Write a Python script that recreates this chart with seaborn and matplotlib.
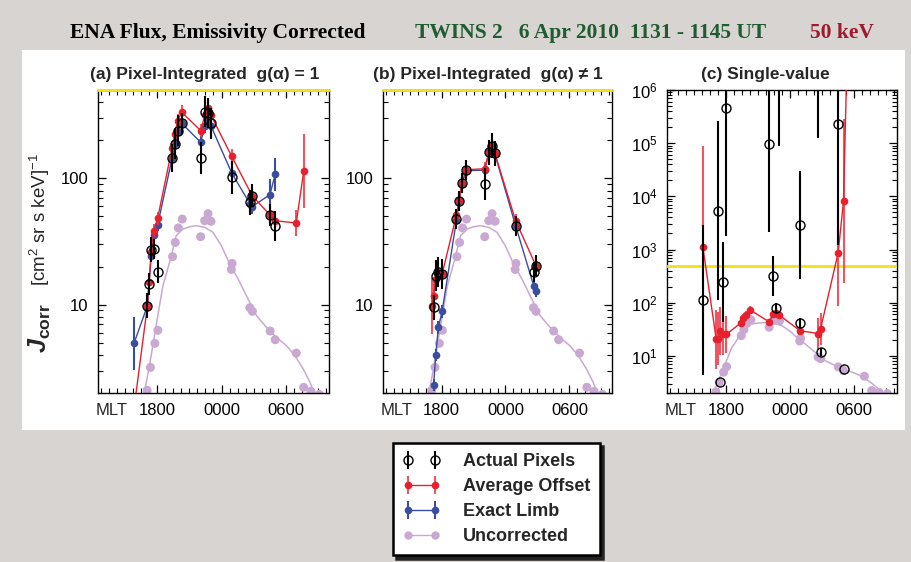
import numpy as np
import matplotlib
matplotlib.use("Agg")
import matplotlib.pyplot as plt
import seaborn as sns
from matplotlib.lines import Line2D
from matplotlib.patches import Rectangle
from matplotlib.ticker import MultipleLocator, FixedLocator, LogLocator, NullFormatter, FuncFormatter

nan = np.nan

# ---------------------------------------------------------------------------
# Data.  MLT in hours; times after midnight continue as 24+ (e.g. 0600 -> 30).
# Error bars are symmetric in log space, given as half-widths in decades.
# ---------------------------------------------------------------------------
pixel_mlt = [15.85, 17.1, 17.25, 17.45, 17.7, 18.05, 19.4, 19.65, 19.9, 20.3,
             22.05, 22.45, 22.7, 23.0, 24.9, 24.95, 26.65, 26.85, 28.5, 29.0,
             29.5, 30.95, 31.65]

# (a) Pixel-integrated, g(alpha) = 1
actual_a = [nan, 9.82, 14.6, 27.2, 27.6, 18.2, 145, 187, 239, 272,
            145, 337, 330, 272, nan, 102, 64.6, 72.9, 51.3, 42.2,
            nan, nan, nan]
actual_a_err = [nan, 0.10, 0.09, 0.10, 0.08, 0.09, 0.11, 0.12, 0.12, 0.08,
                0.13, 0.12, 0.12, 0.12, nan, 0.13, 0.10, 0.09, 0.09, 0.12,
                nan, nan, nan]
offset_a = [1.5, 9.82, 15.0, 26.0, 38.5, 48.2, 174, 224, 286, 333,
            239, 317, 358, 317, nan, 149, nan, 72.9, 51.3, 46.2,
            nan, 44.3, 114]
offset_a_err = [0, 0.05, 0.06, 0.06, 0.05, 0.05, 0.05, 0.05, 0.05, 0.06,
                0.05, 0.06, 0.06, 0.06, nan, 0.06, nan, 0.06, 0.06, 0.06,
                nan, 0.10, 0.29]
limb_a = [4.94, 9.82, nan, 24.4, 35.6, 42.7, 145, 187, 231, 272,
          193, 261, 313, 261, nan, 110, 62.7, 59.7, 74.3, 108,
          nan, nan, nan]
limb_a_err = [0.21, 0.05, nan, 0.05, 0.05, 0.05, 0.05, 0.05, 0.05, 0.06,
              0.05, 0.06, 0.06, 0.06, nan, 0.06, 0.06, 0.06, 0.12, 0.13,
              nan, nan, nan]

# (b) Pixel-integrated, g(alpha) != 1
actual_b = [nan, nan, 9.5, 17.0, 18.2, 17.5, 47.6, 66.5, 91.2, 116,
            89.8, 161, 181, 158, nan, 42.2, 18.2, 20.4, nan, nan,
            nan, nan, nan]
actual_b_err = [nan, nan, 0.10, 0.12, 0.12, 0.12, 0.08, 0.08, 0.08, 0.08,
                0.125, 0.10, 0.10, 0.10, nan, 0.08, 0.08, 0.08, nan, nan,
                nan, nan, nan]
offset_b = [nan, 9.8, 11.8, 16.1, 18.2, 17.5, 51.3, 67.8, 91.8, 117,
            119, 161, 184, 158, nan, 46.2, nan, 20.4, nan, nan,
            nan, nan, nan]
offset_b_err = [nan, 0.22, 0.15, 0.10, 0.08, 0.08, 0.05, 0.05, 0.05, 0.05,
                0.05, 0.05, 0.05, 0.05, nan, 0.05, nan, 0.05, nan, nan,
                nan, nan, nan]
limb_b = [nan, nan, 2.31, 4.0, 6.62, 8.86, 46.8, 65.7, 89.8, 115,
          116, 161, 181, 156, nan, 42.2, 14.1, 12.8, nan, nan,
          nan, nan, nan]
limb_b_err = [nan, nan, 0.05, 0.05, 0.05, 0.05, 0.05, 0.05, 0.05, 0.05,
              0.05, 0.05, 0.05, 0.05, nan, 0.05, 0.05, 0.05, nan, nan,
              nan, nan, nan]

# (c) Single-value
actual_c = [112, nan, 5360, 3.24, 247, 4.52e5, nan, nan, nan, nan,
            9.64e4, 316, 80, 1.0e7, 2880, 41.7, 1.26e7, 11.9, 2.29e5, 5.6,
            nan, nan, nan]
actual_c_err = [1.41, nan, 1.68, 0, 0.75, 2.4, nan, nan, nan, nan,
                1.65, 0.38, 0.10, 2.05, 1.02, 0.10, 2.0, 0.08, 2.28, 0,
                nan, nan, nan]
offset_c = [1125, 20.5, 21.0, 29.5, 26.3, 25.2, 41.8, 51.9, 58.2, 72.3,
            43.6, 60, 62.7, 58.2, nan, 29.6, 26.3, 31.8, 867, 8150,
            1e8, nan, nan]
offset_c_err = [1.9, 0.55, 0.5, 0.45, 0.4, 0.35, 0.08, 0.08, 0.08, 0.08,
                0.05, 0.05, 0.05, 0.05, nan, 0.08, 0.3, 0.3, 1.0, 1.55,
                0, nan, nan]

# Uncorrected flux (same in every panel): pixel values and smooth fit
uncorr_mlt = [17.07, 17.38, 17.79, 18.07, 19.44, 19.69, 19.97, 20.34, 22.05, 22.43,
              22.74, 23.02, 24.91, 24.98, 26.63, 26.87, 28.52, 28.99, 30.95, 31.64,
              32.32, 33.1]
uncorr_vals = [2.1, 3.19, 4.94, 6.27, 24.0, 31.1, 40.5, 47.6, 34.5, 46.2,
               52.5, 45.7, 19.0, 21.2, 9.47, 8.86, 6.19, 5.28, 4.14, 2.22,
               2.06, 1.95]
fit_mlt = [16.6, 16.82, 17.29, 17.91, 18.54, 19.25, 19.78, 20.40, 21.03, 21.65,
           22.43, 23.20, 23.98, 24.76, 25.54, 26.31, 27.25, 28.18, 29.12, 30.05,
           30.83, 31.60, 32.23, 32.60, 33.0]
fit_vals = [1.6, 2.02, 3.29, 6.82, 14.1, 23.0, 35.1, 39.7, 41.4, 42.2,
            40.9, 37.4, 29.3, 21.0, 16.0, 11.8, 8.19, 6.62, 5.51, 4.73,
            3.95, 3.10, 2.43, 2.02, 1.6]

threshold = 500
mlt_ticks = [18, 24, 30]
mlt_labels = ["1800", "0000", "0600"]

panel_titles = ["(a) Pixel-Integrated  g(α) = 1",
                "(b) Pixel-Integrated  g(α) ≠ 1",
                "(c) Single-value"]
legend_labels = ["Actual Pixels", "Average Offset", "Exact Limb", "Uncorrected"]

# ---------------------------------------------------------------------------
# Style
# ---------------------------------------------------------------------------
RED = "#e8202e"
RED_BAR = (0.93, 0.22, 0.28, 0.85)
BLUE = "#3a4d9f"
LILAC = "#c9a9d2"
YELLOW = "#efe21a"
GRAY = "#d8d4d2"

sns.set_theme(style="ticks")
plt.rcParams["font.family"] = ["Liberation Sans", "DejaVu Sans"]
plt.rcParams["mathtext.fontset"] = "custom"
plt.rcParams["mathtext.rm"] = "Liberation Sans"
plt.rcParams["mathtext.it"] = "Liberation Sans:italic"
plt.rcParams["mathtext.bf"] = "Liberation Sans:bold"
if "mathtext.bfit" in plt.rcParams:
    plt.rcParams["mathtext.bfit"] = "Liberation Sans:bold:italic"

W, H = 911, 562
fig = plt.figure(figsize=(W / 100, H / 100), dpi=100)
fig.patch.set_facecolor(GRAY)
fig.add_artist(Rectangle((22 / W, 1 - 430 / H), (905 - 22) / W, (430 - 50) / H,
                         transform=fig.transFigure, facecolor="white",
                         edgecolor="none", zorder=-5))


def px_axes(left, top, width, height):
    return fig.add_axes([left / W, 1 - (top + height) / H, width / W, height / H])


def draw_series(ax, vals, errs, **style):
    x = np.asarray(pixel_mlt, float)
    v = np.asarray(vals, float)
    e = np.asarray(errs, float)
    keep = ~np.isnan(v)
    x, v, e = x[keep], v[keep], np.nan_to_num(e[keep])
    lower = v - v / 10 ** e
    upper = v * 10 ** e - v
    return ax.errorbar(x, v, yerr=[lower, upper], capsize=0, **style)


def style_axes(ax, ylim):
    ax.set_facecolor("white")
    ax.set_yscale("log")
    ax.set_xlim(12.5, 34.0)
    ax.set_ylim(*ylim)
    ax.xaxis.set_major_locator(FixedLocator(mlt_ticks))
    ax.set_xticklabels(mlt_labels)
    ax.xaxis.set_minor_locator(MultipleLocator(0.75))
    ax.yaxis.set_minor_locator(LogLocator(base=10, subs=np.arange(2, 10), numticks=100))
    ax.yaxis.set_minor_formatter(NullFormatter())
    ax.tick_params(which="both", direction="in", top=True, right=True,
                   color="black", labelsize=12, labelcolor="black")
    ax.tick_params(which="major", length=6, width=0.9, pad=7)
    ax.tick_params(which="minor", length=3.5, width=0.8)
    for sp in ax.spines.values():
        sp.set_color("black")
        sp.set_linewidth(1.0)
    ax.set_xlabel("")
    ax.set_ylabel("")
    ax.annotate("MLT", xy=(0, 0), xycoords="axes fraction", xytext=(-1.5, -7),
                textcoords="offset points", ha="left", va="top", fontsize=12)


def draw_uncorrected(ax):
    sns.lineplot(x=fit_mlt, y=fit_vals, ax=ax, color=LILAC, linewidth=1.1,
                 zorder=1, legend=False)
    sns.scatterplot(x=uncorr_mlt, y=uncorr_vals, ax=ax, color=LILAC, s=42,
                    edgecolor="none", zorder=2, legend=False)


actual_style = dict(fmt="o", mfc="none", mec="black", mew=1.0, ms=6.5,
                    ecolor="black", elinewidth=1.5, linestyle="none", zorder=6)
offset_style = dict(fmt="-o", color=RED, ms=5.5, mew=0, lw=1.0,
                    ecolor=RED_BAR, elinewidth=1.5, zorder=5)
limb_style = dict(fmt="-o", color=BLUE, ms=5.5, mew=0, lw=1.0,
                  ecolor=BLUE, elinewidth=1.5, zorder=4)

ax_a = px_axes(98, 90, 231, 303)
ax_b = px_axes(383, 90, 229, 303)
ax_c = px_axes(667, 90, 230, 303)

log_label = FuncFormatter(lambda v, _: f"{v:g}")

# (a)
ax_a.set_yscale("log")
draw_uncorrected(ax_a)
h_limb = draw_series(ax_a, limb_a, limb_a_err, **limb_style)
h_offset = draw_series(ax_a, offset_a, offset_a_err, **offset_style)
h_actual = draw_series(ax_a, actual_a, actual_a_err, **actual_style)
style_axes(ax_a, (2, threshold))
ax_a.yaxis.set_major_formatter(log_label)

# (b)
ax_b.set_yscale("log")
draw_uncorrected(ax_b)
draw_series(ax_b, limb_b, limb_b_err, **limb_style)
draw_series(ax_b, offset_b, offset_b_err, **offset_style)
draw_series(ax_b, actual_b, actual_b_err, **actual_style)
style_axes(ax_b, (2, threshold))
ax_b.yaxis.set_major_formatter(log_label)

# (c)
ax_c.set_yscale("log")
draw_uncorrected(ax_c)
draw_series(ax_c, offset_c, offset_c_err, **offset_style)
draw_series(ax_c, actual_c, actual_c_err, **actual_style)
style_axes(ax_c, (2, 1e6))
ax_c.yaxis.set_major_locator(LogLocator(base=10, numticks=20))

# threshold line (top edge of a and b, inside c)
for ax in (ax_a, ax_b):
    ax.axhline(threshold, color=YELLOW, lw=2.0, zorder=10, clip_on=False)
ax_c.axhline(threshold, color=YELLOW, lw=2.0, zorder=3)

# panel titles
title_x = [205, 488, 765]
for ax, t, xc in zip((ax_a, ax_b, ax_c), panel_titles, title_x):
    fig.text(xc / W, 1 - 75 / H, t, ha="center", va="center", fontsize=12.5,
             family=["Liberation Sans Narrow", "Liberation Sans", "DejaVu Sans"],
             weight="bold")

# y label
fig.text(40 / W, 1 - 328 / H, r"$\mathbfit{J}_{\mathbf{corr}}$", rotation=90,
         ha="center", va="center", fontsize=18)
fig.text(40 / W, 1 - 220 / H, r"[cm$^2$ sr s keV]$^{-1}$", rotation=90,
         ha="center", va="center", fontsize=13.5)

# header
header_font = dict(family=["Liberation Serif", "DejaVu Serif"], weight="bold",
                   fontsize=15.5, va="center", ha="left")
fig.text(70 / W, 1 - 33 / H, "ENA Flux, Emissivity Corrected",
         color="black", **header_font)
fig.text(415 / W, 1 - 33 / H, "TWINS 2   6 Apr 2010  1131 - 1145 UT",
         color="#1f5c30", **header_font)
fig.text(810 / W, 1 - 33 / H, "50 keV", color="#9d1a2f", **header_font)

# legend
h_uncorr = Line2D([], [], color=LILAC, marker="o", ms=6, mew=0, lw=1.0)
leg = fig.legend([h_actual, h_offset, h_limb, h_uncorr], legend_labels,
                 loc="upper left", bbox_to_anchor=(393 / W, 1 - 443 / H),
                 bbox_transform=fig.transFigure, borderaxespad=0,
                 numpoints=2, frameon=True, fancybox=False,
                 edgecolor="black", facecolor="white", framealpha=1,
                 prop={"weight": "bold", "size": 13},
                 handlelength=2.1, handletextpad=1.2, borderpad=0.55,
                 labelspacing=0.45,
                 shadow={"ox": 2.5, "oy": -2.5, "color": "#222222", "alpha": 1.0})
leg.get_frame().set_linewidth(1.8)

fig.savefig("out.png", dpi=100, facecolor=fig.get_facecolor())
